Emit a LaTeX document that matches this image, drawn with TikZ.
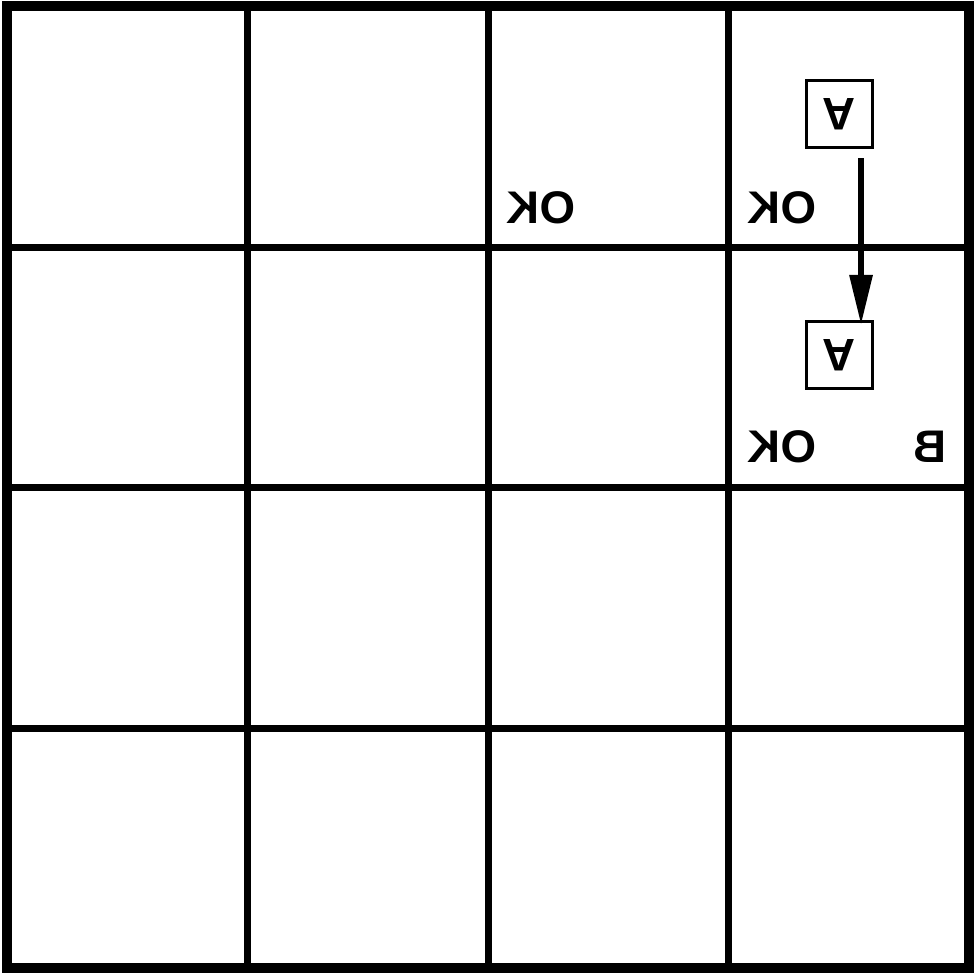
\documentclass[tikz,border=0pt]{standalone}
\usepackage{fontspec}
\setmainfont{Liberation Sans}
\usepackage{tikz}
\usetikzlibrary{positioning,arrows.meta}

\begin{document}
\begin{tikzpicture}[x=0.01cm, y=-0.01cm,
        frame/.style={draw=black, line width=0.1cm},
        cellline/.style={draw=black, line width=0.07cm},
        agentbox/.style={rectangle, draw=black, line width=0.03cm, minimum size=0.66cm, inner sep=0pt, rotate=180, font=\bfseries\fontsize{13}{15}\selectfont},
        oklabel/.style={xscale=-1, inner sep=0pt, font=\bfseries\fontsize{13}{15}\selectfont},
        arrow/.style={draw=black, line width=0.06cm, -{Triangle[length=0.5cm, width=0.22cm]}}
    ]
        \useasboundingbox (0,0) rectangle (974,974);

        % grid
        \foreach \x in {247.5, 488, 728.5} {
            \draw [cellline] (\x,6) -- (\x,968);
            \draw [cellline] (7,\x) -- (969,\x);
        }
        \draw [frame] (7,6) rectangle (969,968);

        % agent positions
        \node [agentbox] (a_top) at (839,114) {A};
        \node [agentbox] (a_low) at (839,355) {A};

        % labels
        \node [oklabel] (ok_a) at (541,208) {OK};
        \node [oklabel] (ok_b) at (782,208) {OK};
        \node [oklabel] (ok_c) at (782,447) {OK};
        \node [oklabel] (breeze) at (930,447) {B};

        \draw [arrow] ([xshift=0.22cm, yshift=-0.44cm]a_top.center) -- ([xshift=0.22cm, yshift=0.30cm]a_low.center);
    \end{tikzpicture}
\end{document}
